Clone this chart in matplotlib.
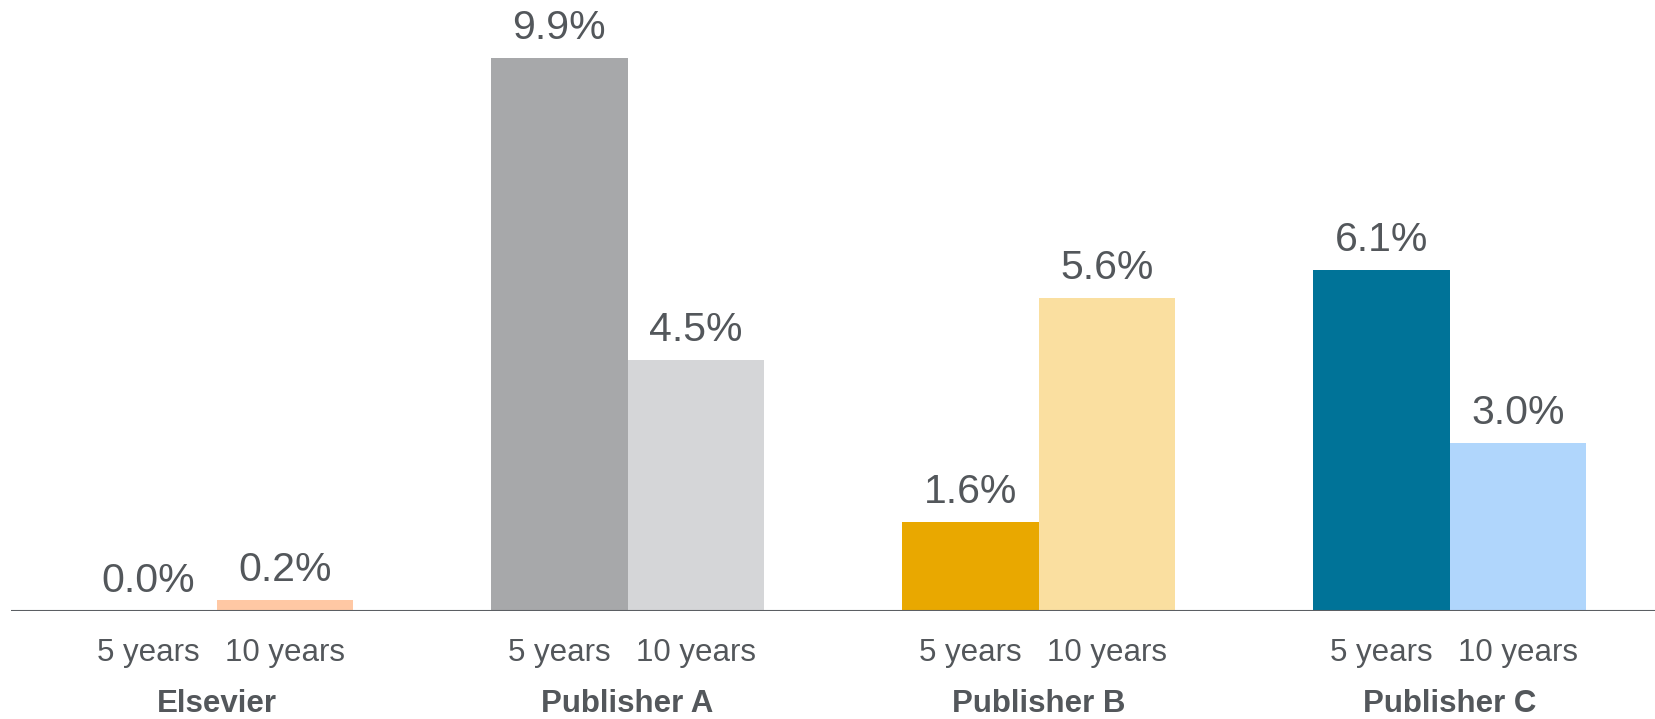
import matplotlib.pyplot as plt
import numpy as np

plt.rcParams["font.family"] = ["Liberation Sans", "DejaVu Sans"]

publishers = ["Elsevier", "Publisher A", "Publisher B", "Publisher C"]
five_years = [0.0, 9.9, 1.6, 6.1]
ten_years = [0.2, 4.5, 5.6, 3.0]
five_colors = ["#FF6C00", "#A7A8AA", "#E9A800", "#007398"]
ten_colors = ["#FFC8A4", "#D5D6D8", "#FADFA0", "#B0D6FC"]

txt = "#53575B"
W, H, dpi = 16.55, 7.19, 100

fig = plt.figure(figsize=(W, H), dpi=dpi)
ax = fig.add_axes([11 / 1655, (719 - 611) / 719, 1 - 11 / 1655, 611 / 719])

x = np.arange(len(publishers))
bw = 0.333
b1 = ax.bar(x - bw / 2, five_years, bw, color=five_colors)
b2 = ax.bar(x + bw / 2, ten_years, bw, color=ten_colors)

ax.set_xlim(-0.5, 3.5)
ax.set_ylim(0, 611 / 55.86)
ax.axis("off")
ax.axhline(0, color="#5B5F63", lw=1.5, xmin=0, xmax=1)

px = 1 / 55.86  # data units per pixel
for bars, vals in [(b1, five_years), (b2, ten_years)]:
    for rect, v in zip(bars, vals):
        ax.text(rect.get_x() + rect.get_width() / 2, v + 19 * px, f"{v:.1f}%",
                ha="center", va="baseline", fontsize=29.5, color=txt)

for i, name in enumerate(publishers):
    ax.text(i - bw / 2, -50 * px, "5 years", ha="center", va="baseline",
            fontsize=22.5, color=txt, clip_on=False)
    ax.text(i + bw / 2, -50 * px, "10 years", ha="center", va="baseline",
            fontsize=22.5, color=txt, clip_on=False)
    ax.text(i, -101 * px, name, ha="center", va="baseline", fontsize=22.5,
            fontweight="bold", color=txt, clip_on=False)

fig.savefig("out.png", dpi=dpi)
